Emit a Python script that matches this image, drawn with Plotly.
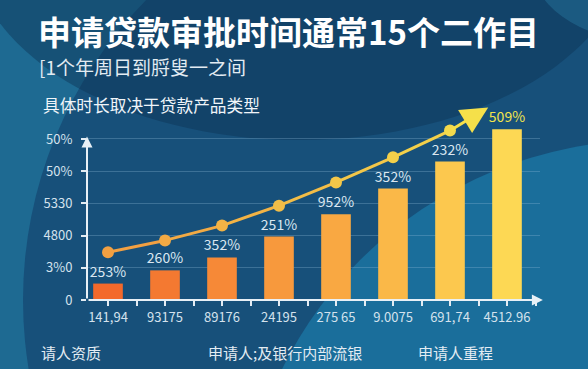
import plotly.graph_objects as go

# ---------------- data ----------------
categories = ["141,94", "93175", "89176", "24195", "275 65", "9.0075", "691,74", "4512.96"]
bar_values = [5.1, 9.2, 13.2, 19.7, 26.6, 34.6, 43.0, 53.0]
bar_labels = ["253%", "260%", "352%", "251%", "952%", "352%", "232%", "509%"]
trend_values = [14.8, 18.5, 23.1, 29.3, 36.5, 44.3, 52.6]
trend_tip_x = 6.67
trend_tip_y = 59.8
y_tick_values = [0, 10, 20, 30, 40, 50]
y_tick_text = ["0", "3%0", "4800", "5330", "50%", "50%"]
title_text = "申请贷款审批时间通常15个二作目"
subtitle_text = "[1个年周日到脟叟一之间"
note_text = "具体时长取决于贷款产品类型"
footer_labels = ["请人资质", "申请人;及银行内部流银", "申请人重程"]

# ---------------- layout constants ----------------
FIG_W, FIG_H = 588, 369
M_L, M_R, M_T, M_B = 87, 48, 100, 69
PW = FIG_W - M_L - M_R
PH = FIG_H - M_T - M_B
FONT = "Noto Sans CJK SC"


def px_x(p):
    return (p - M_L) / PW


def px_y(p):
    return (FIG_H - M_B - p) / PH


def lerp_color(c1, c2, t):
    a = [int(c1[i:i + 2], 16) for i in (1, 3, 5)]
    b = [int(c2[i:i + 2], 16) for i in (1, 3, 5)]
    return "#" + "".join(f"{round(a[k] + (b[k] - a[k]) * t):02x}" for k in range(3))


x_pos = list(range(len(categories)))
n = len(categories)
bar_colors = [lerp_color("#f3692b", "#fdd854", i / (n - 1)) for i in range(n)]
label_colors = ["#dbe7f1"] * (n - 1) + ["#f3e54c"]
nt = len(trend_values)
trend_colors = [lerp_color("#f2a042", "#f3da4c", i / (nt - 1)) for i in range(nt)]

fig = go.Figure()

fig.add_trace(go.Bar(
    x=x_pos, y=bar_values, width=0.52,
    marker=dict(color=bar_colors, line=dict(width=0)),
    text=bar_labels, textposition="outside", cliponaxis=False, constraintext="none",
    textfont=dict(family=FONT, size=14, color=label_colors),
    hoverinfo="skip", showlegend=False,
))

# trend line drawn segment by segment for a colour gradient
for i in range(nt - 1):
    fig.add_trace(go.Scatter(
        x=x_pos[i:i + 2], y=trend_values[i:i + 2], mode="lines",
        line=dict(color=trend_colors[i], width=3),
        hoverinfo="skip", showlegend=False, cliponaxis=False,
    ))
fig.add_trace(go.Scatter(
    x=x_pos[:nt], y=trend_values, mode="markers",
    marker=dict(color=trend_colors, size=12),
    hoverinfo="skip", showlegend=False, cliponaxis=False,
))

x_lo = (M_L - (M_L + 21)) / 57.0
x_hi = x_lo + PW / 57.0
y_hi = 62.1

annotations = []
# trend arrow
annotations.append(dict(
    x=trend_tip_x, y=trend_tip_y, ax=x_pos[nt - 1], ay=trend_values[-1],
    xref="x", yref="y", axref="x", ayref="y", text="", showarrow=True,
    arrowhead=2, arrowsize=1.8, arrowwidth=3, arrowcolor="#f5e04a", standoff=0,
))
# axis arrows
annotations.append(dict(
    x=x_hi + 0.05, y=0, ax=x_lo, ay=0, xref="x", yref="y", axref="x", ayref="y",
    text="", showarrow=True, arrowhead=2, arrowsize=1.1, arrowwidth=2,
    arrowcolor="#e8f0f6", standoff=0,
))
annotations.append(dict(
    x=x_lo, y=50.8, ax=x_lo, ay=0, xref="x", yref="y", axref="x", ayref="y",
    text="", showarrow=True, arrowhead=2, arrowsize=1.1, arrowwidth=2,
    arrowcolor="#e8f0f6", standoff=0,
))

# texts
annotations.append(dict(
    x=px_x(36), y=px_y(31), xref="paper", yref="paper", xanchor="left", yanchor="middle",
    text=f"<b>{title_text}</b>", showarrow=False,
    font=dict(family=FONT, size=33, color="#ffffff"),
))
annotations.append(dict(
    x=px_x(37), y=px_y(66), xref="paper", yref="paper", xanchor="left", yanchor="middle",
    text=subtitle_text, showarrow=False,
    font=dict(family=FONT, size=19, color="#e2ebf2"),
))
annotations.append(dict(
    x=px_x(41), y=px_y(105), xref="paper", yref="paper", xanchor="left", yanchor="middle",
    text=note_text, showarrow=False,
    font=dict(family=FONT, size=16.7, color="#f0f5f9"),
))
for lab, xp in zip(footer_labels, [39, 206, 416]):
    annotations.append(dict(
        x=px_x(xp), y=px_y(352), xref="paper", yref="paper", xanchor="left", yanchor="middle",
        text=lab, showarrow=False,
        font=dict(family=FONT, size=15, color="#e3ecf3"),
    ))

# background decoration
shapes = [
    dict(type="circle", xref="paper", yref="paper", layer="below",
         x0=px_x(450 - 427), x1=px_x(450 + 427), y0=px_y(300 + 427), y1=px_y(300 - 427),
         fillcolor="#17507a", line=dict(width=0)),
    dict(type="circle", xref="paper", yref="paper", layer="below",
         x0=px_x(650 - 410), x1=px_x(650 + 410), y0=px_y(550 + 410), y1=px_y(550 - 410),
         fillcolor="#1a6e9b", line=dict(width=0)),
    dict(type="circle", xref="paper", yref="paper", layer="below",
         x0=px_x(300 - 330), x1=px_x(300 + 330), y0=px_y(-60 + 200), y1=px_y(-60 - 200),
         fillcolor="rgba(14,50,84,0.45)", line=dict(width=0)),
    dict(type="circle", xref="paper", yref="paper", layer="below",
         x0=px_x(640 - 110), x1=px_x(640 + 110), y0=px_y(-40 + 80), y1=px_y(-40 - 80),
         fillcolor="rgba(40,120,160,0.45)", line=dict(width=0)),
]

fig.update_layout(
    width=FIG_W, height=FIG_H,
    margin=dict(l=M_L, r=M_R, t=M_T, b=M_B, pad=0),
    paper_bgcolor="#1e6a92", plot_bgcolor="rgba(0,0,0,0)",
    showlegend=False, bargap=0.48,
    annotations=annotations, shapes=shapes,
    font=dict(family=FONT, color="#d4e2ed"),
    xaxis=dict(
        range=[x_lo, x_hi], tickvals=x_pos, ticktext=categories,
        showgrid=False, zeroline=False, showline=False,
        ticks="outside", ticklen=5, tickwidth=1.5, tickcolor="#e3ecf3",
        tickfont=dict(family=FONT, size=13, color="#d4e2ed"),
        minor=dict(tick0=0.5, dtick=1, ticks="outside", ticklen=5, tickwidth=1.5,
                   tickcolor="#e3ecf3", showgrid=False),
        fixedrange=True,
    ),
    yaxis=dict(
        range=[0, y_hi], tickvals=y_tick_values, ticktext=y_tick_text,
        showgrid=True, gridcolor="rgba(140,185,215,0.32)", gridwidth=1,
        zeroline=False, showline=False,
        ticks="outside", ticklen=5, tickwidth=1.5, tickcolor="#e3ecf3",
        ticklabelstandoff=6,
        tickfont=dict(family=FONT, size=13, color="#d4e2ed"),
        fixedrange=True,
    ),
)

fig.write_html(
    "out.html",
    config={"displayModeBar": False},
    post_script="document.body.style.margin='0';document.body.style.overflow='hidden';",
)
